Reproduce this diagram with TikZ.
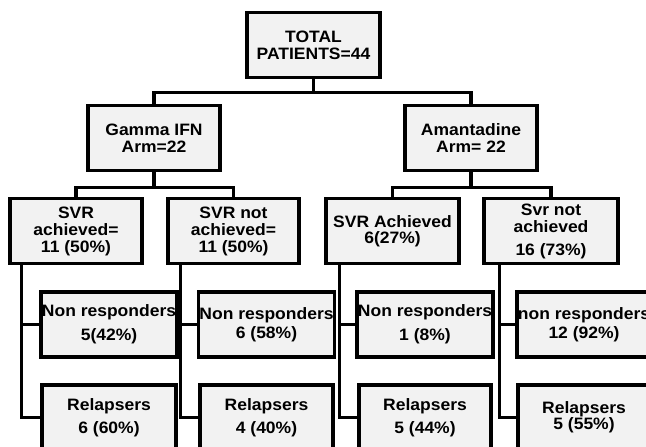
\documentclass[tikz,border=0pt]{standalone}
\usepackage{fontspec}
\setmainfont{Liberation Sans}[FakeStretch=1.06]
\usepackage{tikz}
\usetikzlibrary{calc}
\tikzset{
  box/.style={draw, line width=3.4pt, fill=black!5, minimum width=132pt, minimum height=65pt,
    align=center, inner sep=1pt, font=\fontsize{16.5}{17}\selectfont\bfseries},
  link/.style={line width=3.4pt}
}

\begin{document}
\begin{tikzpicture}[x=1pt, y=-1pt]
      \clip (0, 0) rectangle (646, 447);
      \fill[white] (0, 0) rectangle (646, 447);
      \node[box, minimum width=133pt] (total) at (313.5, 45) {TOTAL\\PATIENTS=44};
      \node[box] (gamma) at (154, 138) {Gamma IFN\\Arm=22};
      \node[box] (amant) at (471, 138) {Amantadine\\Arm= 22};
      \node[box] (svrg) at (76, 231) {SVR\\achieved=\\11 (50\%)};
      \node[box, minimum width=131pt] (nsvrg) at (233.5, 231) {SVR not\\achieved=\\11 (50\%)};
      \node[box, minimum width=133pt] (svra) at (392.5, 231) {SVR Achieved\\[-1pt]6(27\%)};
      \node[box, minimum width=134pt] (nsvra) at (551, 231) {Svr not\\achieved\\[6pt]16 (73\%)};
      \node[box, minimum width=134pt] (nrg) at (109, 324.5) {Non responders\\[7pt]5(42\%)};
      \node[box, minimum width=133pt] (nrng) at (266.5, 324.5) {Non responders\\[2pt]6 (58\%)};
      \node[box] (nra) at (425, 324.5) {Non responders\\[7pt]1 (8\%)};
      \node[box] (nrna) at (584, 324.5) {non responders\\[2pt]12 (92\%)};
      \node[box, minimum width=134pt] (rlg) at (109, 417.5) {Relapsers\\[6pt]6 (60\%)};
      \node[box, minimum width=133pt] (rlng) at (266.5, 417.5) {Relapsers\\[6pt]4 (40\%)};
      \node[box] (rla) at (425, 417.5) {Relapsers\\[6pt]5 (44\%)};
      \node[box] (rlna) at (584, 417.5) {Relapsers\\[-1pt]5 (55\%)};
      % tree links
      \draw[link] (total.south) -- ++(0, 13) coordinate (t0);
      \draw[link] (gamma.north) |- (t0) -| (amant.north);
      \draw[link] (gamma.south) -- ++(0, 15) coordinate (g0);
      \draw[link] (svrg.north) |- (g0) -| (nsvrg.north);
      \draw[link] (amant.south) -- ++(0, 15) coordinate (a0);
      \draw[link] (svra.north) |- (a0) -| (nsvra.north);
      \foreach \up/\a/\b/\dx in {svrg/nrg/rlg/13, nsvrg/nrng/rlng/14, svra/nra/rla/15, nsvra/nrna/rlna/17} {
        \coordinate (s) at ($(\up.south west)+(\dx, 0)$);
        \draw[link] (s) |- (\b.west);
        \draw[link] (s |- \a.west) -- (\a.west);
      }
    \end{tikzpicture}
\end{document}
